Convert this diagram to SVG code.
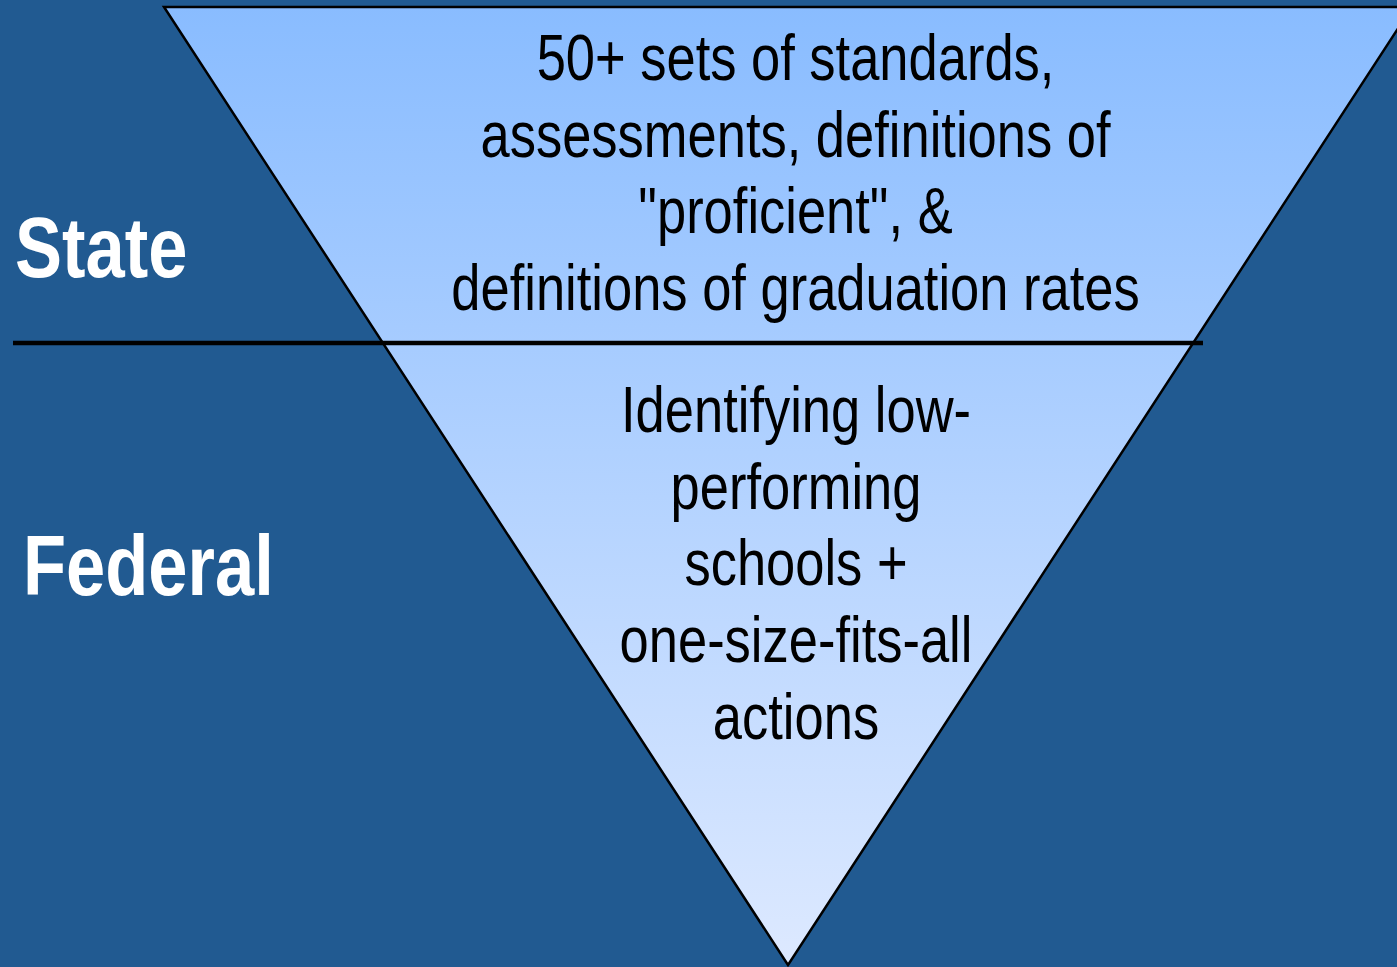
<svg xmlns="http://www.w3.org/2000/svg" width="1397" height="967" viewBox="0 0 1397 967">
  <defs>
    <linearGradient id="fill" gradientUnits="userSpaceOnUse" x1="0" y1="7" x2="0" y2="965">
      <stop offset="0" stop-color="#89bcff"/>
      <stop offset="1" stop-color="#dde9ff"/>
    </linearGradient>
    <style>
      .body { font-family: "Liberation Sans", Arial, sans-serif; font-size: 64px; fill: #000; text-anchor: middle; }
      .label { font-family: "Liberation Sans", Arial, sans-serif; font-size: 86px; font-weight: bold; fill: #fff; }
    </style>
  </defs>
  <rect x="0" y="0" width="1397" height="967" fill="#215a91"/>
  <g id="triangle">
    <polygon points="164,7 1412,7 788,965" fill="url(#fill)" stroke="#000" stroke-width="2.5" stroke-linejoin="miter"/>
  </g>
  <g id="connectors">
    <line x1="13" y1="343" x2="1203" y2="343" stroke="#000" stroke-width="4.5"/>
  </g>
  <g id="state-text" transform="translate(795.5,0) scale(0.82,1)">
    <text class="body" x="0" y="80">50+ sets of standards,</text>
    <text class="body" x="0" y="157">assessments, definitions of</text>
    <text class="body" x="0" y="233">"proficient", &amp;</text>
    <text class="body" x="0" y="310">definitions of graduation rates</text>
  </g>
  <g id="federal-text" transform="translate(796,0) scale(0.82,1)">
    <text class="body" x="0" y="432">Identifying low-</text>
    <text class="body" x="0" y="509">performing</text>
    <text class="body" x="0" y="585">schools +</text>
    <text class="body" x="0" y="662">one-size-fits-all</text>
    <text class="body" x="0" y="739">actions</text>
  </g>
  <g id="state-label" transform="translate(15,0) scale(0.82,1)">
    <text class="label" x="0" y="277">State</text>
  </g>
  <g id="federal-label" transform="translate(23,0) scale(0.82,1)">
    <text class="label" x="0" y="595">Federal</text>
  </g>
</svg>
